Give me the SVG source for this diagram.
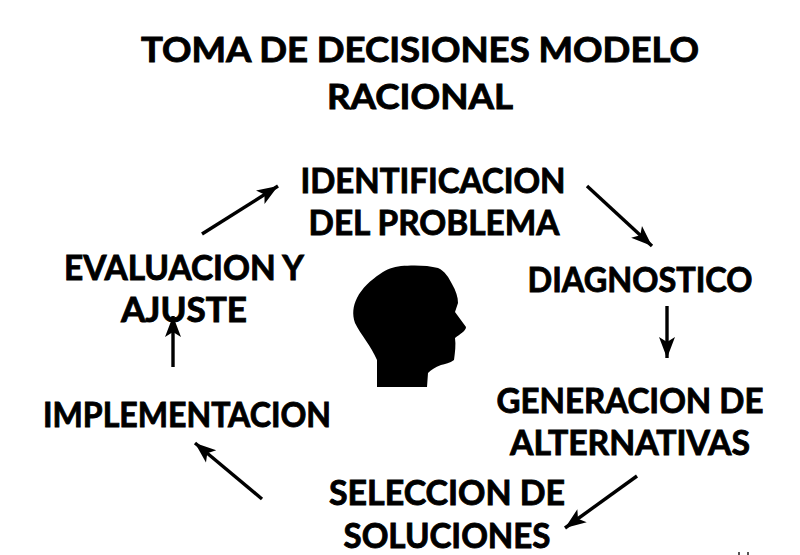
<svg xmlns="http://www.w3.org/2000/svg" width="800" height="555" viewBox="0 0 800 555">
<defs>
<marker id="ah" markerUnits="userSpaceOnUse" markerWidth="24" markerHeight="20" refX="21" refY="9" orient="auto">
<path d="M0 1 L21 9 L0 17 L5 9 Z" fill="#000"/>
</marker>
</defs>
<style>
text{font-family:"Lato","Open Sans","Liberation Sans",sans-serif;font-weight:700;fill:#000;text-anchor:middle;font-size:35px;stroke:#000;stroke-width:.9px}
.c{stroke:#000;stroke-width:3.4;fill:none;marker-end:url(#ah)}
</style>
<rect width="800" height="555" fill="#fff"/>
<g id="title"><text x="420" y="62" textLength="558" lengthAdjust="spacingAndGlyphs">TOMA DE DECISIONES MODELO</text><text x="420" y="109" textLength="186" lengthAdjust="spacingAndGlyphs">RACIONAL</text></g>
<g id="n-identificacion"><text x="433" y="193" textLength="265" lengthAdjust="spacingAndGlyphs">IDENTIFICACION</text><text x="434" y="235" textLength="251" lengthAdjust="spacingAndGlyphs">DEL PROBLEMA</text></g>
<g id="n-diagnostico"><text x="640" y="292" textLength="225" lengthAdjust="spacingAndGlyphs">DIAGNOSTICO</text></g>
<g id="n-generacion"><text x="630" y="413" textLength="267" lengthAdjust="spacingAndGlyphs">GENERACION DE</text><text x="630" y="455" textLength="240" lengthAdjust="spacingAndGlyphs">ALTERNATIVAS</text></g>
<g id="n-seleccion"><text x="447" y="505" textLength="236" lengthAdjust="spacingAndGlyphs">SELECCION DE</text><text x="447" y="548" textLength="207" lengthAdjust="spacingAndGlyphs">SOLUCIONES</text></g>
<g id="n-implementacion"><text x="187" y="427" textLength="288" lengthAdjust="spacingAndGlyphs">IMPLEMENTACION</text></g>
<g id="n-evaluacion"><text x="184" y="280" textLength="240" lengthAdjust="spacingAndGlyphs">EVALUACION Y</text><text x="184" y="322" textLength="126" lengthAdjust="spacingAndGlyphs">AJUSTE</text></g>
<g id="head"><path d="M377 387 L377 360 C371 346 361 335 355 323 C352 314 353 306 357 298 C362 288 371 280 380 274 C387 269 393 267 401 266 C412 265 428 265 438 268 C445 271 449 278 452 284 C456 291 458 297 458 303 L455 312 L466 327 C466 331 460 334 455 338 C456 345 455 352 454 360 C450 363 445 364 441 365 C435 367 431 370 428 373 L427 387 Z" fill="#000"/></g>
<g id="connectors">
<line class="c" x1="202" y1="234" x2="278" y2="186"/>
<line class="c" x1="587" y1="186" x2="652" y2="246"/>
<line class="c" x1="667" y1="306" x2="667" y2="358"/>
<line class="c" x1="637" y1="476" x2="565" y2="528"/>
<line class="c" x1="262" y1="499" x2="195" y2="443"/>
<line class="c" x1="173" y1="367" x2="173" y2="316"/>
</g>
<g id="mark"><rect x="738" y="552" width="2" height="3" fill="#555"/><rect x="747" y="552" width="2" height="3" fill="#555"/></g>
</svg>
